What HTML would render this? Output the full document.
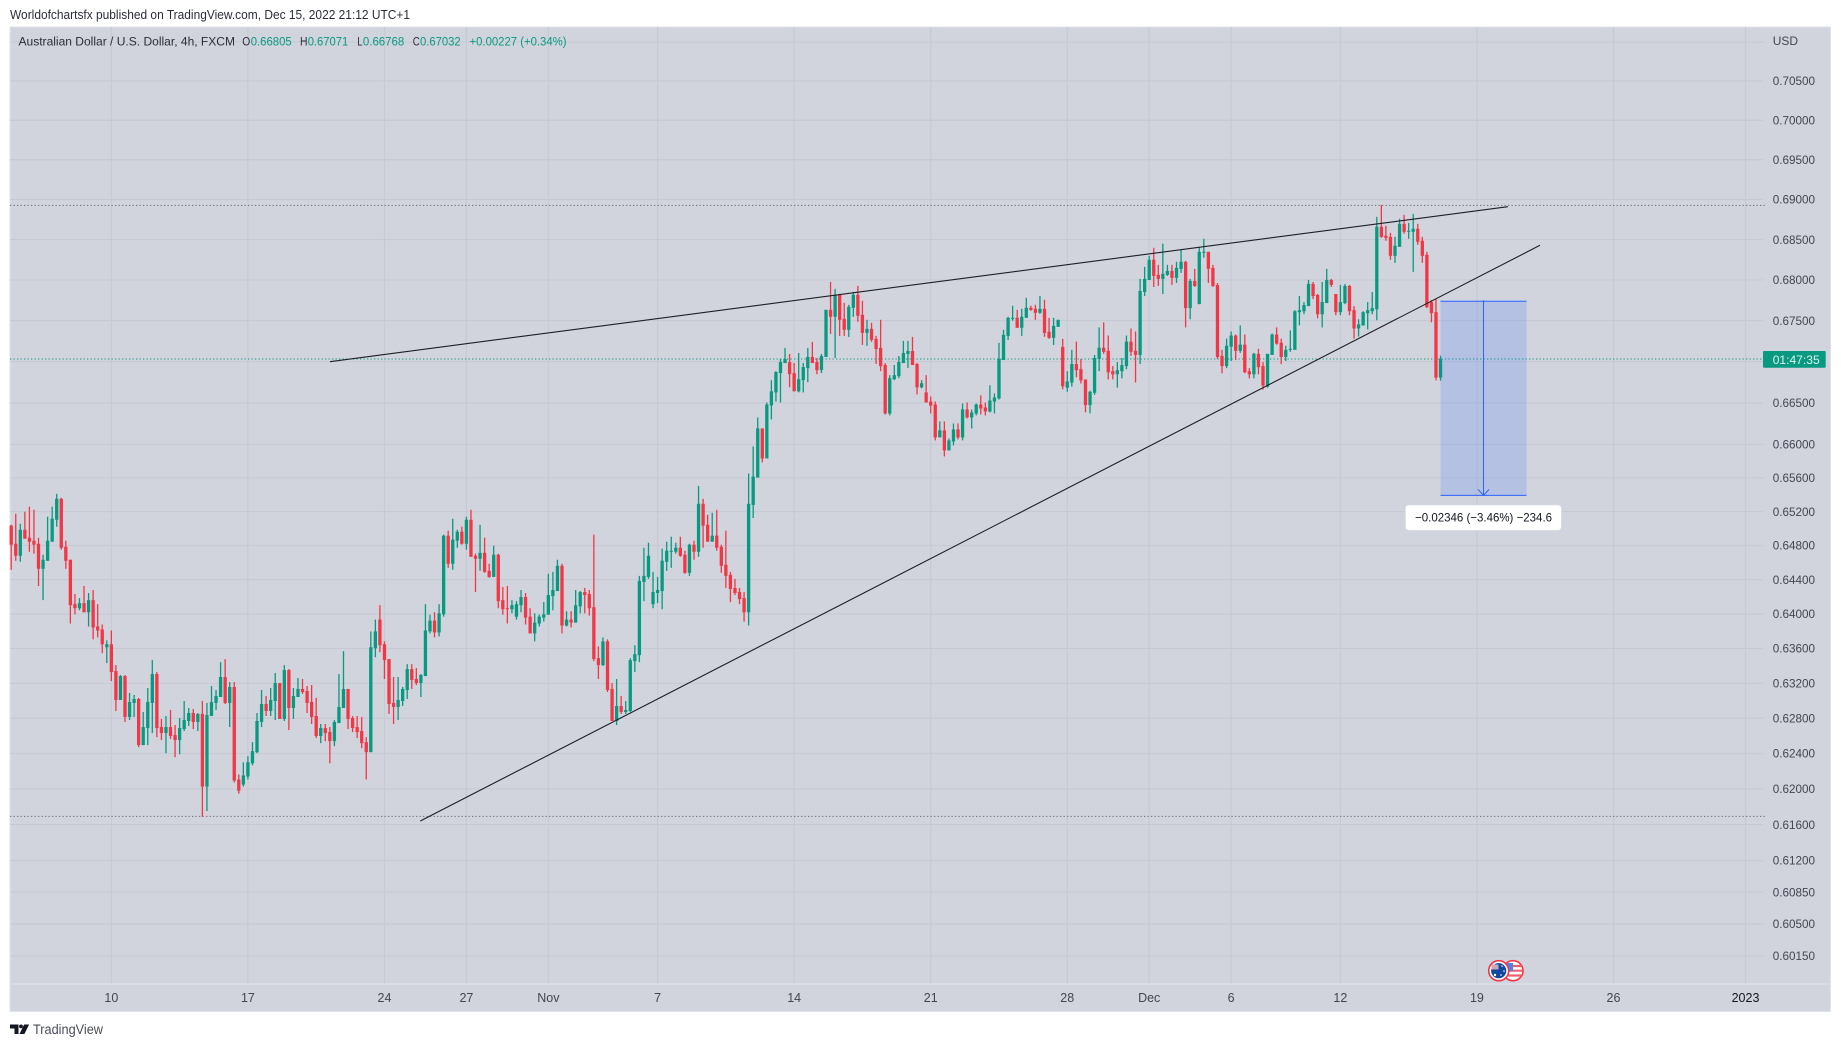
<!DOCTYPE html>
<html lang="en">
<head>
<meta charset="utf-8">
<title>Australian Dollar / U.S. Dollar, 4h, FXCM</title>
<style>
html,body{margin:0;padding:0;background:#fff;width:1841px;height:1047px;overflow:hidden}
svg{display:block;position:absolute;left:0;top:0}
text{font-family:"Liberation Sans",Arial,sans-serif}
</style>
</head>
<body>
<svg id="chart" xmlns="http://www.w3.org/2000/svg" width="1841" height="1047" viewBox="0 0 1841 1047">
  <text x="10" y="19" font-size="12.5" fill="#2a2e39" textLength="400" lengthAdjust="spacingAndGlyphs">Worldofchartsfx published on TradingView.com, Dec 15, 2022 21:12 UTC+1</text>
  <rect x="10" y="27" width="1820.5" height="984.5" fill="#d1d4dc" stroke="#e0e3eb" stroke-width="1"/>
  <g id="grid-layer"></g>
  <line x1="10" y1="984" x2="1830" y2="984" stroke="#e0e3eb" stroke-width="1"/>
  <g id="level-layer"></g>
  <g id="candle-layer"></g>
  <g id="drawing-layer"></g>

  <g>
    <g>
      <circle cx="1513" cy="970.7" r="10" fill="#fff" stroke="#f23645" stroke-width="1.6"/>
      <path d="M1504.5 966h17M1504 970.7h18M1505 975.5h16" stroke="#f0606c" stroke-width="2.2" fill="none"/>
      <rect x="1506" y="963" width="7" height="8" fill="#4a86e8"/>
    </g>
    <g>
      <circle cx="1498.7" cy="970.7" r="10" fill="#fff" stroke="#f23645" stroke-width="1.6"/>
      <circle cx="1498.7" cy="970.7" r="7.6" fill="#12479e"/>
      <path d="M1491.5 964.5h7v5h-7z" fill="#c7a9b8"/>
      <circle cx="1495" cy="975" r="1.2" fill="#fff"/>
      <circle cx="1502" cy="966" r=".8" fill="#fff"/>
      <circle cx="1504" cy="971" r=".8" fill="#fff"/>
      <circle cx="1501" cy="975" r=".8" fill="#fff"/>
    </g>
  </g>

  <g id="axis-layer"></g>

  <rect x="1763" y="351" width="62.7" height="16.7" rx="1" fill="#089981"/>
  <text x="1772.7" y="363.8" font-size="12" fill="#dff3ee" textLength="47" lengthAdjust="spacingAndGlyphs">01:47:35</text>

  <g font-size="12.3">
    <text x="18.5" y="45.6" fill="#2a2e39" textLength="216.5" lengthAdjust="spacingAndGlyphs">Australian Dollar / U.S. Dollar, 4h, FXCM</text>
    <text x="242.3" y="45.6" fill="#2a2e39" textLength="8" lengthAdjust="spacingAndGlyphs">O</text>
    <text x="250.7" y="45.6" fill="#089981" textLength="41" lengthAdjust="spacingAndGlyphs">0.66805</text>
    <text x="300" y="45.6" fill="#2a2e39" textLength="7.5" lengthAdjust="spacingAndGlyphs">H</text>
    <text x="307.7" y="45.6" fill="#089981" textLength="40.6" lengthAdjust="spacingAndGlyphs">0.67071</text>
    <text x="357.3" y="45.6" fill="#2a2e39" textLength="5.3" lengthAdjust="spacingAndGlyphs">L</text>
    <text x="362.9" y="45.6" fill="#089981" textLength="41.4" lengthAdjust="spacingAndGlyphs">0.66768</text>
    <text x="412.7" y="45.6" fill="#2a2e39" textLength="7" lengthAdjust="spacingAndGlyphs">C</text>
    <text x="420" y="45.6" fill="#089981" textLength="40.7" lengthAdjust="spacingAndGlyphs">0.67032</text>
    <text x="469.5" y="45.6" fill="#089981" textLength="97" lengthAdjust="spacingAndGlyphs">+0.00227 (+0.34%)</text>
  </g>

  <g>
    <path d="M10 1024.5h8.5v9.5h-4v-5.5H10zM19.5 1034l4.6-9.5h5l-4.7 9.5z" fill="#131722"/>
    <circle cx="21" cy="1026.4" r="1.9" fill="#131722"/>
    <text x="33" y="1034" font-size="13.5" fill="#4a4d58" textLength="70" lengthAdjust="spacingAndGlyphs">TradingView</text>
  </g>
</svg>

<script>
// ---- price data (one 4h candle per entry, USD) ----
const opens=[.65034,.64821,.6468,.64986,.64892,.64857,.64821,.64527,.64621,.64845,
.65104,.65352,.64786,.64633,.64114,.64067,.64126,.6402,.64161,.63855,
.6382,.63615,.63649,.6334,.63009,.63283,.62815,.62975,.6302,.62495,
.62689,.62975,.63306,.627,.62632,.627,.62609,.62552,.62677,.62769,
.6286,.62758,.62849,.62026,.62826,.62975,.63043,.63272,.62975,.63158,
.62106,.62049,.6214,.62289,.62415,.62758,.62963,.62883,.62997,.63203,
.62792,.63352,.62917,.63043,.63135,.63112,.62986,.62826,.62598,.62689,
.62643,.6254,.62746,.62917,.63135,.62803,.627,.62655,.62529,.62415,
.63603,.63935,.63649,.63478,.62975,.62929,.62997,.63123,.63363,.63249,
.63203,.63283,.63798,.63923,.63786,.63996,.64916,.64586,.64857,.64963,
.64821,.65104,.6468,.64645,.64715,.64503,.64432,.64692,.64161,.64067,
.64055,.63969,.64102,.64197,.63969,.63775,.63889,.63958,.63992,.64208,
.64267,.64562,.63866,.63935,.639,.6409,.64255,.64232,.64079,.63489,
.63409,.63683,.63135,.62769,.6294,.62872,.62883,.63455,.63523,.64373,
.64432,.64114,.64244,.64267,.64609,.64727,.64727,.64774,.64692,.6448,
.6481,.64727,.65293,.65045,.64845,.64916,.64786,.64574,.64456,.64303,
.64255,.64185,.6402,.6528,.65604,.66192,.65832,.66468,.66626,.6686,
.66982,.66994,.6686,.66639,.66774,.66921,.67056,.66994,.66896,.67056,
.67632,.67547,.67817,.67522,.67387,.67657,.67817,.67571,.6735,.67399,
.67277,.67166,.66958,.66372,.66786,.66823,.66982,.67093,.67129,.6697,
.66688,.66626,.66516,.6648,.66084,.66168,.65928,.66036,.6618,.66084,
.6642,.66324,.66372,.6648,.66444,.66396,.66516,.66553,.67019,.67313,
.67522,.67534,.67412,.67534,.67657,.67645,.67596,.67645,.67363,.67289,
.67424,.67178,.66684,.66746,.6697,.66907,.66783,.66473,.66622,.67032,
.67168,.67131,.66883,.66845,.66883,.66945,.67243,.67131,.67081,.67851,
.68,.68249,.68063,.68013,.68063,.68112,.68025,.68137,.68224,.67653,
.67988,.67702,.68336,.68348,.68149,.67938,.67069,.66945,.67181,.67317,
.67131,.67206,.66883,.66845,.67094,.66945,.66696,.67081,.6733,.6723,
.67056,.67143,.67143,.67603,.67615,.67678,.67951,.67814,.67578,.67715,
.68,.67827,.67603,.67715,.67926,.67628,.67404,.67441,.6759,.67615,
.6764,.68659,.68547,.68534,.68298,.6841,.68696,.68597,.68597,.68634,
.68485,.68311,.67727,.67603,.66805];

const highs=[.65045,.65175,.65057,.65199,.65258,.65222,.64892,.64692,.6514,.65258,
.65411,.65364,.64857,.64633,.64232,.64185,.64326,.64244,.64279,.64114,
.63878,.63695,.63809,.63409,.63295,.63295,.63089,.63066,.63032,.62872,
.63146,.63466,.63329,.62792,.62826,.62895,.62723,.62803,.62997,.62917,
.62906,.6286,.62997,.62975,.63169,.63123,.63443,.63478,.63215,.63215,
.62163,.623,.62369,.62529,.6286,.63123,.63055,.63146,.63318,.63203,
.63409,.63363,.63146,.6326,.63249,.63169,.6318,.63032,.62735,.62735,
.627,.6278,.63306,.63569,.63135,.62826,.62826,.62815,.62586,.63798,
.63935,.64102,.63683,.63478,.63272,.63272,.63158,.6342,.6342,.63375,
.63306,.64114,.63992,.6402,.64114,.64928,.64975,.65116,.64986,.65022,
.6514,.65222,.64704,.65045,.64892,.64586,.64798,.64704,.64314,.64326,
.64161,.64149,.64279,.64244,.64067,.64008,.63992,.64138,.64468,.64491,
.64633,.64586,.64032,.64032,.64279,.64267,.64303,.64279,.64928,.63626,
.63729,.63706,.63203,.63249,.63055,.62997,.63489,.63638,.64444,.64774,
.64833,.64491,.64432,.64763,.64845,.64904,.64833,.64904,.64739,.64821,
.64857,.65505,.65352,.65163,.65187,.65222,.6481,.64975,.64491,.64409,
.64303,.64255,.65652,.65976,.66324,.66192,.66504,.66774,.66884,.67031,
.67166,.67093,.66982,.67105,.66982,.67166,.6724,.67044,.67093,.67632,
.67976,.6789,.67829,.67718,.67694,.67853,.67927,.67743,.6751,.67473,
.67313,.6751,.66982,.66835,.66958,.67068,.67252,.67252,.67301,.66982,
.66774,.66835,.66577,.66516,.66276,.66276,.66072,.66252,.66252,.66492,
.66504,.6642,.66492,.6659,.66504,.66712,.66614,.67228,.67387,.67547,
.67682,.67632,.67645,.6778,.67682,.67694,.67804,.67755,.67534,.67534,
.6751,.67277,.66883,.67143,.67243,.67032,.66783,.66647,.67081,.67417,
.67479,.67317,.66945,.66994,.67044,.67317,.67404,.67367,.68013,.68162,
.68298,.68398,.68187,.68448,.68187,.68187,.68224,.68373,.68236,.68013,
.68137,.6841,.6851,.68348,.68187,.67963,.67143,.6728,.67367,.6733,
.67441,.6733,.6692,.67106,.67156,.66994,.67094,.67342,.67417,.6728,
.67193,.67379,.67628,.67802,.67727,.68,.67975,.67827,.67975,.68137,
.68013,.67827,.67938,.67951,.67938,.67678,.67516,.67615,.67727,.67851,
.68783,.68932,.68671,.68584,.68534,.68758,.68808,.68708,.6882,.68696,
.68534,.68348,.67752,.67764,.67071];

const lows=[.64515,.64621,.64609,.6488,.64727,.64704,.64326,.64161,.64621,.64845,
.65022,.64751,.64527,.63889,.63996,.64043,.6402,.63855,.63706,.63729,
.63546,.63432,.63226,.62883,.63009,.62758,.6278,.62815,.62472,.62495,
.62495,.62632,.62586,.62552,.62403,.62563,.62357,.62392,.62655,.62712,
.62677,.62655,.61687,.61752,.62826,.62895,.63043,.62963,.627,.62072,
.61946,.62026,.62106,.62266,.62403,.627,.62826,.62826,.6278,.62792,
.62769,.62666,.62792,.63043,.63078,.6286,.62735,.62575,.62517,.6254,
.62289,.62483,.62746,.62917,.62677,.62643,.62575,.6246,.62106,.62415,
.635,.63558,.63249,.62849,.62735,.6278,.6294,.6302,.63135,.6318,
.63043,.63283,.63775,.63729,.6374,.63969,.64538,.64515,.64774,.6481,
.64751,.64668,.64255,.64503,.6448,.64421,.64432,.64067,.63992,.63889,
.64008,.63935,.6402,.63878,.63775,.63683,.63855,.63912,.63992,.64043,
.64267,.63775,.63855,.63843,.639,.64008,.64008,.63981,.63455,.63249,
.63398,.631,.62769,.62723,.62849,.62849,.62872,.63329,.63443,.64149,
.64409,.64067,.64126,.64055,.64503,.64538,.64704,.64668,.64468,.64444,
.64633,.64668,.64774,.64845,.64845,.64739,.6448,.64303,.64138,.6422,
.64114,.63912,.63866,.65124,.65604,.65784,.65832,.663,.66516,.66504,
.66982,.66688,.66639,.66626,.66626,.66749,.66982,.66847,.6686,.67056,
.67338,.67044,.67313,.67313,.67301,.67547,.67485,.67203,.67191,.6724,
.6697,.66884,.6636,.66348,.66774,.66798,.66982,.66921,.66958,.66602,
.66675,.66504,.66372,.66048,.66084,.65856,.65928,.65988,.6606,.66048,
.66312,.66192,.66348,.6636,.66348,.66384,.66372,.6654,.67019,.67264,
.67498,.67412,.67313,.67534,.6762,.6751,.67583,.67301,.67277,.67203,
.67424,.66663,.66634,.66696,.66808,.66734,.66386,.66373,.66597,.66883,
.67094,.66783,.66783,.66684,.66796,.66907,.67069,.66746,.6697,.67802,
.68,.67913,.67926,.67827,.6805,.67938,.67963,.68087,.67417,.67516,
.67913,.67702,.68274,.67963,.67913,.67032,.66858,.6692,.67007,.67019,
.67106,.66858,.66796,.66796,.66845,.66659,.66684,.67081,.67206,.6697,
.67007,.67119,.67143,.67441,.67578,.67678,.67764,.67528,.67417,.67715,
.67913,.67566,.67566,.67702,.67566,.6728,.67305,.67441,.67392,.67578,
.67504,.68522,.68485,.68249,.68212,.6841,.68572,.6851,.681,.68435,
.68212,.67653,.67479,.66771,.66768];

const closes=[.6481,.6468,.64986,.6488,.64845,.6481,.64527,.64633,.64857,.65116,
.65352,.64774,.64621,.64102,.64067,.64126,.6402,.64161,.63843,.63809,
.63649,.63649,.63329,.63009,.63283,.62815,.62986,.6302,.62495,.627,
.62986,.63306,.62689,.62632,.627,.62598,.62552,.62689,.6278,.6286,
.62758,.62849,.62026,.62837,.62986,.63055,.63272,.62975,.63158,.62095,
.6198,.62152,.623,.62426,.62769,.62963,.62883,.63009,.63203,.62792,
.63352,.62917,.63055,.63135,.631,.62975,.62815,.62598,.62689,.62632,
.6254,.62758,.62929,.63135,.62792,.62689,.62643,.62517,.62415,.63615,
.63798,.63638,.63466,.62963,.62929,.63009,.63135,.63363,.63238,.63203,
.63295,.63809,.63923,.63786,.64008,.64916,.64586,.64869,.64963,.64821,
.65104,.64668,.64645,.64715,.64491,.64432,.64692,.64149,.64055,.64055,
.64102,.64114,.64197,.63958,.63775,.639,.63969,.63996,.6422,.64279,
.64562,.63866,.63935,.639,.64102,.64255,.6422,.64067,.63478,.63409,
.63683,.63123,.62769,.6294,.62872,.62895,.63466,.63535,.64385,.64444,
.6468,.64255,.64279,.64621,.64739,.64739,.64774,.6468,.6448,.6481,
.64727,.65293,.65034,.64845,.64916,.64774,.64562,.64444,.64291,.64244,
.64173,.6402,.65293,.65616,.66192,.65832,.6648,.66639,.66872,.66994,
.67031,.66847,.66639,.66786,.66933,.67056,.66982,.66896,.67068,.67632,
.67547,.67817,.6751,.67387,.67669,.67817,.67559,.6735,.67399,.67264,
.67154,.66945,.66372,.66798,.66835,.66994,.67105,.67129,.66958,.66688,
.66737,.66504,.66468,.66084,.66168,.65928,.66048,.6618,.66084,.6642,
.66324,.66384,.6648,.66432,.66396,.66528,.66565,.67031,.67326,.67534,
.67534,.67412,.67547,.67657,.67632,.67596,.67645,.6735,.67289,.67436,
.6751,.667,.66758,.6697,.66895,.66771,.66473,.66634,.67044,.67168,
.67119,.6687,.66845,.66895,.66957,.67243,.67119,.67081,.67864,.68013,
.68249,.6805,.68013,.68075,.68112,.68025,.68149,.68224,.67653,.67988,
.67926,.68348,.68348,.68137,.67926,.67056,.66945,.67193,.67317,.67131,
.67206,.6687,.66845,.67094,.66932,.66709,.67094,.6733,.67218,.67056,
.67143,.67156,.67615,.67628,.6769,.67951,.67802,.67578,.67727,.68,
.67938,.67603,.67727,.67926,.67615,.67404,.67454,.67603,.67628,.67653,
.68659,.68534,.68522,.68298,.68423,.68696,.68597,.68609,.68634,.68472,
.68298,.67665,.67591,.66805,.67032];

// ---- axis ticks ----
const priceTicks=[.71,.705,.7,.695,.69,.685,.68,.675,.67,.665,.66,.656,.652,.648,.644,.64,.636,.632,.628,.624,.62,.616,.612,.6085,.605,.6015];
const priceTickLabels=["USD","0.70500","0.70000","0.69500","0.69000","0.68500","0.68000","0.67500","","0.66500","0.66000","0.65600","0.65200","0.64800","0.64400","0.64000","0.63600","0.63200","0.62800","0.62400","0.62000","0.61600","0.61200","0.60850","0.60500","0.60150"];
const timeTickBars=[22,52,82,100,118,142,172,202,232,250,268,292,322,352,381];
const timeTickLabels=["10","17","24","27","Nov","7","14","21","28","Dec","6","12","19","26","2023"];

// ---- drawings, in [bar index, price] ----
const upperTrendBars=[70.03,328.8];
const upperTrendPrices=[.66999,.6891];
const lowerTrendBars=[89.87,335.85];
const lowerTrendPrices=[.6164,.68429];
const levelPrices=[.68927,.61692];
const measureBars=[314,332.9];
const measurePrices=[.67737,.65392];
const measureText="\u22120.02346 (\u22123.46%) \u2212234.6";

// ---- scales ----
const SVGNS="http://www.w3.org/2000/svg";
function xScale(bar){return 11.2+bar*4.552;}
function yScale(price){return 81+5510*Math.log(.705/price);}
function make(tag,attrs,parent){
  const el=document.createElementNS(SVGNS,tag);
  for(const k in attrs){el.setAttribute(k,attrs[k]);}
  parent.appendChild(el);
  return el;
}

const gridLayer=document.getElementById('grid-layer');
const levelLayer=document.getElementById('level-layer');
const candleLayer=document.getElementById('candle-layer');
const drawingLayer=document.getElementById('drawing-layer');
const axisLayer=document.getElementById('axis-layer');
const GRID="#c7cad4";

priceTicks.forEach(function(p,i){
  const y=yScale(p);
  const line=make('line',{x1:10,x2:1763,y1:y,y2:y,stroke:GRID,'stroke-width':1.2},gridLayer);
  
  
  if(priceTickLabels[i]){
    const isUnit=priceTickLabels[i]==="USD";
    const t=make('text',{x:1772.7,y:isUnit?y+3:y+4.2,'font-size':12,fill:'#434651'},axisLayer);
    t.textContent=priceTickLabels[i];
    if(!isUnit){t.setAttribute('textLength','42.3');t.setAttribute('lengthAdjust','spacingAndGlyphs');}
    
    
  }
});

timeTickBars.forEach(function(b,i){
  const x=xScale(b);
  const line=make('line',{x1:x,x2:x,y1:27,y2:984,stroke:GRID,'stroke-width':1.2},gridLayer);
  
  
  const label=timeTickLabels[i];
  const t=make('text',{x:x,y:1002,'font-size':12.5,'text-anchor':'middle',fill:label==="2023"?'#131722':'#434651'},axisLayer);
  t.textContent=label;
  
  
});

levelPrices.forEach(function(p){
  const y=yScale(p);
  const l=make('line',{x1:10,x2:1765,y1:y,y2:y,stroke:'#6a6d78','stroke-width':1,'stroke-dasharray':'1.3 2.2'},levelLayer);
  
  
});

const lastClose=closes[closes.length-1];
const lastLine=make('line',{x1:10,x2:1765,y1:yScale(lastClose),y2:yScale(lastClose),stroke:'#089981','stroke-width':1,'stroke-dasharray':'1.3 2.2'},levelLayer);



closes.forEach(function(c,i){
  const o=opens[i],h=highs[i],l=lows[i];
  const col=c>=o?'#089981':'#f23645';
  const cx=xScale(i);
  const yTop=yScale(Math.max(o,c));
  const yBot=yScale(Math.min(o,c));
  const wick=make('rect',{x:cx-0.65,y:yScale(h),width:1.3,height:Math.max(yScale(l)-yScale(h),1),fill:col},candleLayer);
  
  
  const body=make('rect',{x:cx-1.65,y:yTop,width:3.3,height:Math.max(yBot-yTop,1),fill:col},candleLayer);
  
  
});

const upperTrend=make('line',{x1:xScale(upperTrendBars[0]),y1:yScale(upperTrendPrices[0]),x2:xScale(upperTrendBars[1]),y2:yScale(upperTrendPrices[1]),stroke:'#1e1f26','stroke-width':1.1},drawingLayer);


const lowerTrend=make('line',{x1:xScale(lowerTrendBars[0]),y1:yScale(lowerTrendPrices[0]),x2:xScale(lowerTrendBars[1]),y2:yScale(lowerTrendPrices[1]),stroke:'#1e1f26','stroke-width':1.1},drawingLayer);



const mx0=xScale(measureBars[0]),mx1=xScale(measureBars[1]),my0=yScale(measurePrices[0]),my1=yScale(measurePrices[1]);
const mMid=(mx0+mx1)/2;
const mBox=make('rect',{x:mx0,y:my0,width:mx1-mx0,height:my1-my0,fill:'#2962ff','fill-opacity':.17},drawingLayer);


const mTop=make('line',{x1:mx0,x2:mx1,y1:my0,y2:my0,stroke:'#2962ff','stroke-width':1},drawingLayer);


const mBot=make('line',{x1:mx0,x2:mx1,y1:my1,y2:my1,stroke:'#2962ff','stroke-width':1},drawingLayer);


const mArrow=make('path',{d:'M'+mMid+' '+(my0-1)+'V'+my1+'M'+(mMid-5.5)+' '+(my1-6)+'L'+mMid+' '+my1+'L'+(mMid+5.5)+' '+(my1-6),stroke:'#2962ff','stroke-width':1,fill:'none'},drawingLayer);


const mPanel=make('rect',{x:mMid-78,y:my1+9.7,width:155.7,height:25,rx:3,fill:'#ffffff',stroke:'#e0e3eb','stroke-width':.6},drawingLayer);


const mText=make('text',{x:mMid,y:my1+26,'font-size':12,'text-anchor':'middle',fill:'#131722',textLength:137,lengthAdjust:'spacingAndGlyphs'},drawingLayer);
mText.textContent=measureText;


</script>
</body>
</html>
